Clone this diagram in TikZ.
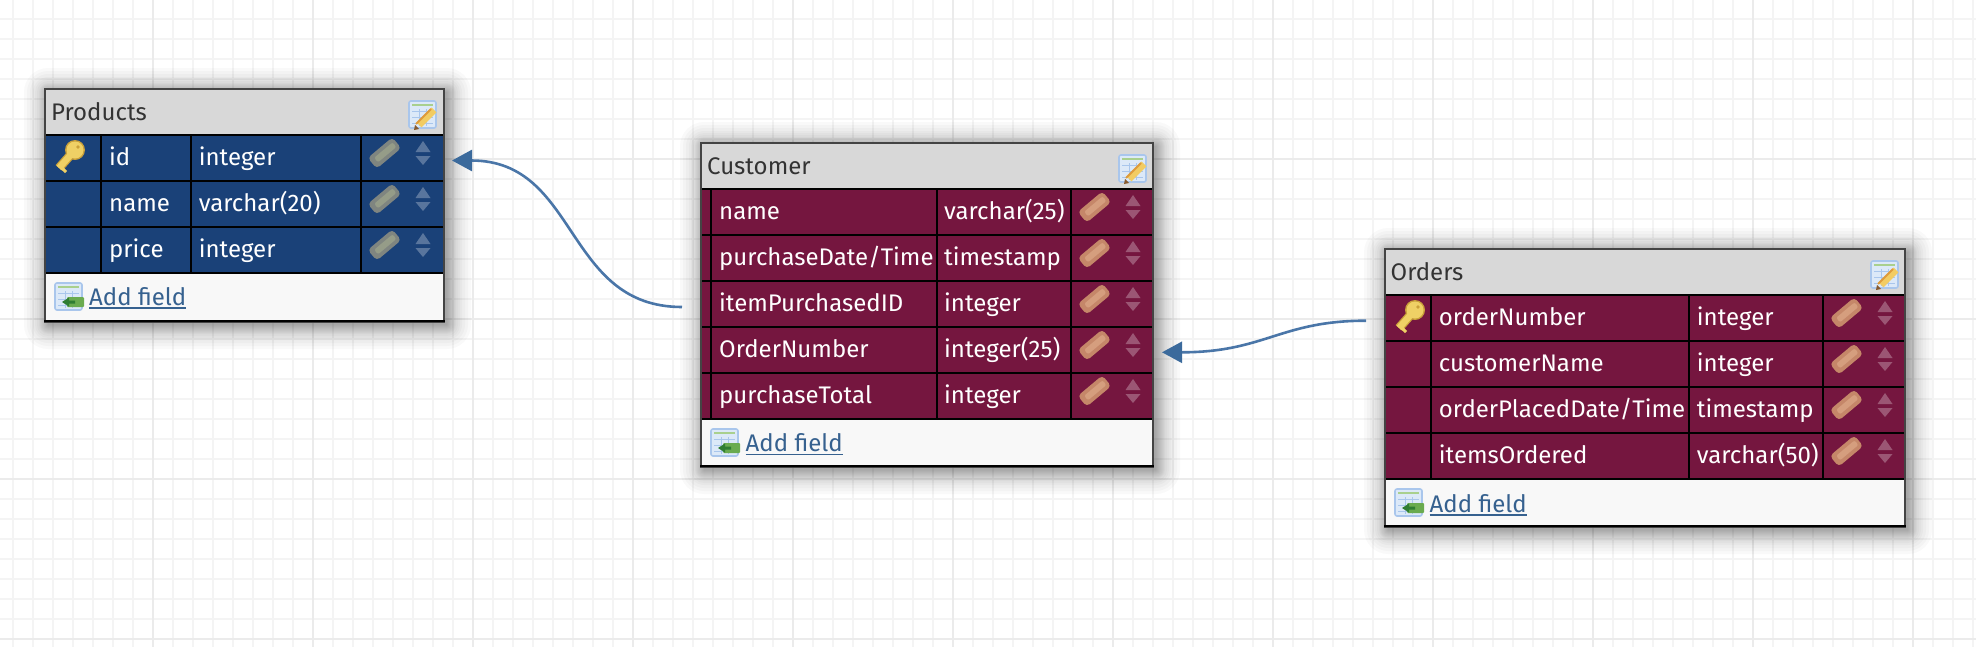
\documentclass[tikz,border=0pt]{standalone}
\usepackage{fontspec}
\setmainfont{Fira Sans}
\usetikzlibrary{arrows.meta}
\definecolor{rowblue}{HTML}{1A4178}
\definecolor{rowmaroon}{HTML}{75163F}
\definecolor{headgray}{HTML}{D8D8D8}
\definecolor{footgray}{HTML}{F8F8F8}
\definecolor{framegray}{HTML}{444444}
\definecolor{linkblue}{HTML}{36618F}
\definecolor{linkarrow}{HTML}{4A76A8}
\definecolor{arrowhead}{HTML}{3B6A9C}
\definecolor{gridminor}{HTML}{F4F4F4}
\definecolor{gridmajor}{HTML}{EBEBEB}
\definecolor{rubblue}{HTML}{7F8580}
\definecolor{stripblue}{HTML}{959C88}
\definecolor{rubmaroon}{HTML}{C58769}
\definecolor{stripmaroon}{HTML}{D59E7E}
\definecolor{keygold}{HTML}{EFD065}
\definecolor{keyedge}{HTML}{C9A03A}
\definecolor{sheetfill}{HTML}{DCE9F8}
\definecolor{sheetedge}{HTML}{A9C6EC}
\definecolor{sheetbar}{HTML}{A9D08E}
\definecolor{tagfill}{HTML}{6AAB4F}
\definecolor{tagdark}{HTML}{2F7D32}
\definecolor{pencilfill}{HTML}{F2CC62}
\definecolor{penciledge}{HTML}{DE9B3C}
\newcommand{\tableshadow}[4]{
    \foreach \d in {24,21,18,15,13,11,9,8,7,6,5,4,3,2,1,0}{
        \fill[black,opacity=0.025,rounded corners=\d pt+0.1pt] (#1+3-\d,#2+3-\d) rectangle (#3+3+\d,#4+3+\d);
    }
}
\tikzset{
    x=1pt,y=-1pt,
    tablebox/.style={fill=footgray},
    tableframe/.style={draw=framegray,line width=2.4pt},
    sepline/.style={black,line width=2pt},
    headtext/.style={font=\fontsize{24}{24}\selectfont,text=black!80,anchor=base west,inner sep=0pt},
    fieldtext/.style={font=\fontsize{24}{24}\selectfont,text=white,anchor=base west,inner sep=0pt},
    linktext/.style={font=\fontsize{24}{24}\selectfont,text=linkblue,anchor=base west,inner sep=0pt},
    linkline/.style={linkblue,line width=1.3pt},
    relation/.style={linkarrow,line width=2.6pt,-{Triangle[length=20pt,width=21pt,color=arrowhead]}},
    pics/rowtools/.style 2 args={code={
        \begin{scope}[shift={(23.5,17)},rotate=40]
            \fill[#1,rounded corners=4pt] (-16,-7) rectangle (16,7);
            \fill[#2,rounded corners=2pt] (-11,-3) rectangle (13,3);
        \end{scope}
        \fill[white,opacity=0.28] (54.5,16)--(69.5,16)--(62,5)--cycle;
        \fill[white,opacity=0.28] (54.5,20)--(69.5,20)--(62,29)--cycle;
    }},
    pics/keyicon/.style={code={
        \draw[line width=9pt,color=keyedge] (29,15)--(14,32);
        \fill[keyedge] (30,14) circle (10);
        \draw[line width=6.5pt,color=keygold] (29,15)--(14,32);
        \fill[keygold] (30,14) circle (8.5);
        \draw[line width=3pt,color=keygold] (15,30)--(21,36);
        \fill[keyedge] (33,11) circle (1.8);
    }},
    pics/sheeticon/.style={code={
        \draw[fill=sheetfill,draw=sheetedge,line width=1.6pt,rounded corners=2pt] (1,1) rectangle (28,28);
        \fill[sheetbar] (4,4) rectangle (25,6);
        \draw[sheetedge,line width=1pt] (4,11)--(25,11) (4,17)--(25,17) (4,23)--(25,23) (11,9)--(11,26) (18,9)--(18,26);
    }},
    pics/editicon/.style={code={
        \pic {sheeticon};
        \draw[line width=7pt,color=pencilfill] (11,25)--(26,10);
        \draw[line width=2pt,color=penciledge] (8,24)--(23,9);
        \fill[brown!70!black] (6,30)--(11,29)--(7,25)--cycle;
    }},
    pics/addicon/.style={code={
        \pic {sheeticon};
        \fill[tagfill,rounded corners=1pt] (13,15) rectangle (30,25);
        \fill[tagdark] (8,20)--(15,15.5)--(15,18.5)--(21,18.5)--(21,21.5)--(15,21.5)--(15,24.5)--cycle;
    }},
}
\begin{document}
\begin{tikzpicture}
    \useasboundingbox (0,0) rectangle (1976,646);
    \fill[white] (0,0) rectangle (1976,646);

    %Rutenett
        \draw[gridminor,line width=2pt,shift={(13.3,19.3)}] (-20,-20) grid[step=20pt] (1980,640);
        \draw[gridmajor,line width=2pt,shift={(153.3,159.3)}] (-160,-160) grid[step=160pt] (1840,490);

    %Products
        \tableshadow{45}{89}{444}{322}
        \path[tablebox] (45,89) rectangle (444,322);
        \fill[headgray] (45,89) rectangle (444,135);
        \fill[rowblue] (45,135) rectangle (444,273);
        \draw[sepline] (45,135)--(444,135);
        \draw[sepline] (45,181)--(444,181);
        \draw[sepline] (45,227)--(444,227);
        \draw[sepline] (45,273)--(444,273);
        \draw[sepline] (100.7,135)--(100.7,273);
        \draw[sepline] (190.7,135)--(190.7,273);
        \draw[sepline] (360.7,135)--(360.7,273);
        \draw[tableframe] (45,89) rectangle (444,322);
        \draw[sepline] (44,321)--(445,321);
        \node[headtext] (prodHead) at (51,120) {Products};
        \pic at (408,100) {editicon};
        \pic at (45,136) {keyicon};
        %
        \node[fieldtext] (prodIdName) at (109,165) {id};
        \node[fieldtext] (prodIdType) at (198.7,165) {integer};
        \pic at (361,136) {rowtools={rubblue}{stripblue}};
        \node[fieldtext] (prodNameName) at (109,211) {name};
        \node[fieldtext] (prodNameType) at (198.7,211) {varchar(20)};
        \pic at (361,182) {rowtools={rubblue}{stripblue}};
        \node[fieldtext] (prodPriceName) at (109,257) {price};
        \node[fieldtext] (prodPriceType) at (198.7,257) {integer};
        \pic at (361,228) {rowtools={rubblue}{stripblue}};
        %
        \pic at (54,282) {addicon};
        \node[linktext] (prodAdd) at (89,305) {Add field};
        \draw[linkline] ([yshift=-3pt]prodAdd.base west)--([yshift=-3pt]prodAdd.base east);

    %Customer
        \tableshadow{701}{143}{1153}{467}
        \path[tablebox] (701,143) rectangle (1153,467);
        \fill[headgray] (701,143) rectangle (1153,189);
        \fill[rowmaroon] (701,189) rectangle (1153,419);
        \draw[sepline] (701,189)--(1153,189);
        \draw[sepline] (701,235)--(1153,235);
        \draw[sepline] (701,281)--(1153,281);
        \draw[sepline] (701,327)--(1153,327);
        \draw[sepline] (701,373)--(1153,373);
        \draw[sepline] (701,419)--(1153,419);
        \draw[sepline] (711,189)--(711,419);
        \draw[sepline] (937,189)--(937,419);
        \draw[sepline] (1071,189)--(1071,419);
        \draw[tableframe] (701,143) rectangle (1153,467);
        \draw[sepline] (700,466)--(1154,466);
        \node[headtext] (custHead) at (707,174) {Customer};
        \pic at (1118,154) {editicon};
        %
        \node[fieldtext] (custName) at (719,219.5) {name};
        \node[fieldtext] (custNameType) at (944,219.5) {varchar(25)};
        \pic at (1071,190) {rowtools={rubmaroon}{stripmaroon}};
        \node[fieldtext] (custDate) at (719,265.5) {purchaseDate/Time};
        \node[fieldtext] (custDateType) at (944,265.5) {timestamp};
        \pic at (1071,236) {rowtools={rubmaroon}{stripmaroon}};
        \node[fieldtext] (custItem) at (719,311.5) {itemPurchasedID};
        \node[fieldtext] (custItemType) at (944,311.5) {integer};
        \pic at (1071,282) {rowtools={rubmaroon}{stripmaroon}};
        \node[fieldtext] (custOrder) at (719,357.5) {OrderNumber};
        \node[fieldtext] (custOrderType) at (944,357.5) {integer(25)};
        \pic at (1071,328) {rowtools={rubmaroon}{stripmaroon}};
        \node[fieldtext] (custTotal) at (719,403.5) {purchaseTotal};
        \node[fieldtext] (custTotalType) at (944,403.5) {integer};
        \pic at (1071,374) {rowtools={rubmaroon}{stripmaroon}};
        %
        \pic at (710,428) {addicon};
        \node[linktext] (custAdd) at (745.5,451.5) {Add field};
        \draw[linkline] ([yshift=-3pt]custAdd.base west)--([yshift=-3pt]custAdd.base east);

    %Orders
        \tableshadow{1385}{249}{1905}{527}
        \path[tablebox] (1385,249) rectangle (1905,527);
        \fill[headgray] (1385,249) rectangle (1905,295);
        \fill[rowmaroon] (1385,295) rectangle (1905,479);
        \draw[sepline] (1385,295)--(1905,295);
        \draw[sepline] (1385,341)--(1905,341);
        \draw[sepline] (1385,387)--(1905,387);
        \draw[sepline] (1385,433)--(1905,433);
        \draw[sepline] (1385,479)--(1905,479);
        \draw[sepline] (1430.7,295)--(1430.7,479);
        \draw[sepline] (1689.4,295)--(1689.4,479);
        \draw[sepline] (1823.3,295)--(1823.3,479);
        \draw[tableframe] (1385,249) rectangle (1905,527);
        \draw[sepline] (1384,526)--(1906,526);
        \node[headtext] (ordHead) at (1390.5,280) {Orders};
        \pic at (1870,260) {editicon};
        \pic at (1385,296) {keyicon};
        %
        \node[fieldtext] (ordNumber) at (1438.7,325.7) {orderNumber};
        \node[fieldtext] (ordNumberType) at (1696.7,325.7) {integer};
        \pic at (1823,296) {rowtools={rubmaroon}{stripmaroon}};
        \node[fieldtext] (ordCustomer) at (1438.7,371.7) {customerName};
        \node[fieldtext] (ordCustomerType) at (1696.7,371.7) {integer};
        \pic at (1823,342) {rowtools={rubmaroon}{stripmaroon}};
        \node[fieldtext] (ordDate) at (1438.7,417.7) {orderPlacedDate/Time};
        \node[fieldtext] (ordDateType) at (1696.7,417.7) {timestamp};
        \pic at (1823,388) {rowtools={rubmaroon}{stripmaroon}};
        \node[fieldtext] (ordItems) at (1438.7,463.7) {itemsOrdered};
        \node[fieldtext] (ordItemsType) at (1696.7,463.7) {varchar(50)};
        \pic at (1823,434) {rowtools={rubmaroon}{stripmaroon}};
        %
        \pic at (1394,488) {addicon};
        \node[linktext] (ordAdd) at (1429.5,512) {Add field};
        \draw[linkline] ([yshift=-3pt]ordAdd.base west)--([yshift=-3pt]ordAdd.base east);

    %Piler
        \coordinate (custStart) at (682,307);
        \coordinate (prodTip) at (452,160.5);
        \coordinate (ordStart) at (1366,320.7);
        \coordinate (custTip) at (1162,352.3);
        \draw[relation] (custStart) .. controls (564,307) and (579,160.5) .. (prodTip);
        \draw[relation] (ordStart) .. controls (1280,320.7) and (1265,352.3) .. (custTip);
\end{tikzpicture}
\end{document}
